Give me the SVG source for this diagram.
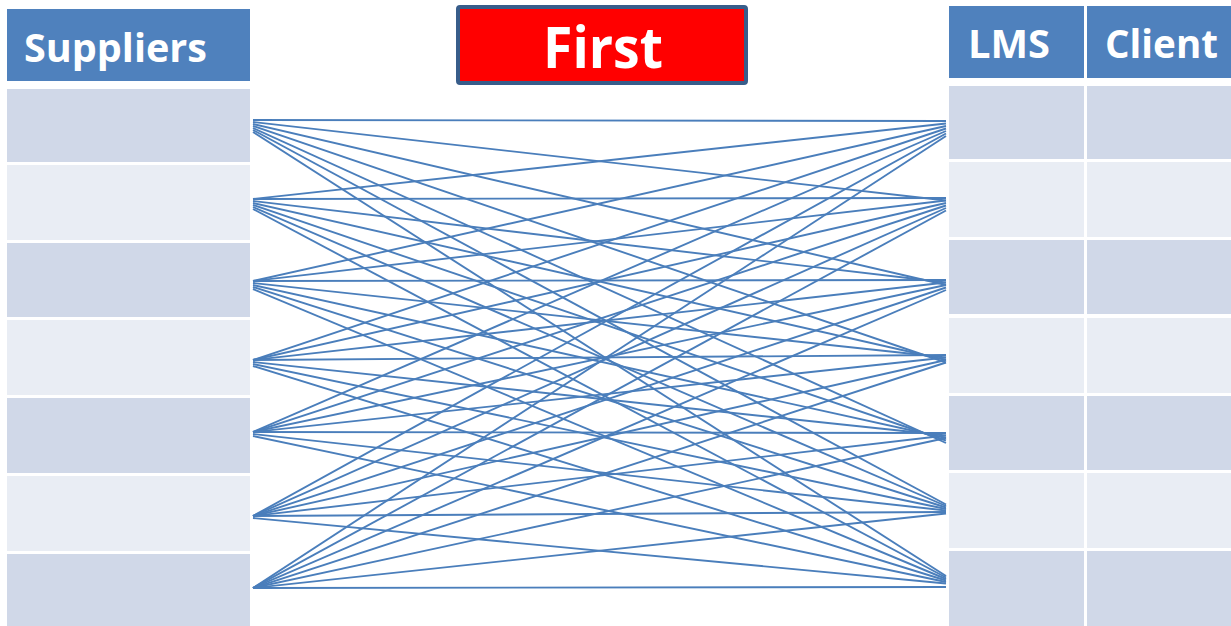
<svg xmlns="http://www.w3.org/2000/svg" width="1231" height="626" viewBox="0 0 1231 626">
<style>
.hdr{fill:#4F81BD}
.dk{fill:#D0D8E8}
.lt{fill:#E9EDF4}
.ht{font-family:"Open Sans","Noto Sans",sans-serif;font-weight:bold;fill:#FFFFFF;font-size:40px}
.ln{stroke:#4A7EBB;stroke-width:1.9;fill:none}
</style>
<rect x="0" y="0" width="1231" height="626" fill="#FFFFFF"/>
<g id="suppliers">
<rect class="hdr" x="7" y="9" width="243" height="72"/>
<text class="ht" x="24" y="62" textLength="183" lengthAdjust="spacingAndGlyphs">Suppliers</text>
<rect class="dk" x="7" y="89" width="243" height="73"/>
<rect class="lt" x="7" y="165" width="243" height="75"/>
<rect class="dk" x="7" y="243" width="243" height="74"/>
<rect class="lt" x="7" y="320" width="243" height="75"/>
<rect class="dk" x="7" y="398" width="243" height="75"/>
<rect class="lt" x="7" y="476" width="243" height="75"/>
<rect class="dk" x="7" y="554" width="243" height="72"/>
</g>
<g id="first">
<rect x="458" y="7" width="288" height="76" rx="2" fill="#FF0000" stroke="#385D8A" stroke-width="4"/>
<text x="603" y="68" text-anchor="middle" font-family="Open Sans, Noto Sans, sans-serif" font-weight="bold" font-size="58" fill="#FFFFFF" textLength="120" lengthAdjust="spacingAndGlyphs">First</text>
</g>
<g id="lms">
<rect class="hdr" x="949" y="6" width="135" height="72"/>
<text class="ht" x="968" y="58" textLength="82" lengthAdjust="spacingAndGlyphs">LMS</text>
<rect class="dk" x="949" y="86" width="135" height="73"/>
<rect class="lt" x="949" y="162" width="135" height="75"/>
<rect class="dk" x="949" y="240" width="135" height="74"/>
<rect class="lt" x="949" y="318" width="135" height="75"/>
<rect class="dk" x="949" y="396" width="135" height="74"/>
<rect class="lt" x="949" y="473" width="135" height="75"/>
<rect class="dk" x="949" y="551" width="135" height="75"/>
</g>
<g id="client">
<rect class="hdr" x="1087" y="6" width="144" height="72"/>
<text class="ht" x="1105" y="58" textLength="113" lengthAdjust="spacingAndGlyphs">Client</text>
<rect class="dk" x="1087" y="86" width="144" height="73"/>
<rect class="lt" x="1087" y="162" width="144" height="75"/>
<rect class="dk" x="1087" y="240" width="144" height="74"/>
<rect class="lt" x="1087" y="318" width="144" height="75"/>
<rect class="dk" x="1087" y="396" width="144" height="74"/>
<rect class="lt" x="1087" y="473" width="144" height="75"/>
<rect class="dk" x="1087" y="551" width="144" height="75"/>
</g>
<g id="connectors" class="ln">
<line class="ln" x1="253" y1="120" x2="946" y2="121"/>
<line class="ln" x1="253" y1="122" x2="946" y2="200.5"/>
<line class="ln" x1="253" y1="124" x2="946" y2="285"/>
<line class="ln" x1="253" y1="126" x2="946" y2="362.5"/>
<line class="ln" x1="253" y1="128" x2="946" y2="443"/>
<line class="ln" x1="253" y1="130" x2="946" y2="504.5"/>
<line class="ln" x1="253" y1="132" x2="946" y2="576"/>
<line class="ln" x1="253" y1="199" x2="946" y2="123.5"/>
<line class="ln" x1="253" y1="199" x2="946" y2="198"/>
<line class="ln" x1="253" y1="201" x2="946" y2="282.5"/>
<line class="ln" x1="253" y1="203" x2="946" y2="360"/>
<line class="ln" x1="253" y1="205" x2="946" y2="440.5"/>
<line class="ln" x1="253" y1="207" x2="946" y2="506"/>
<line class="ln" x1="253" y1="209" x2="946" y2="577.5"/>
<line class="ln" x1="253" y1="281" x2="946" y2="126"/>
<line class="ln" x1="253" y1="281" x2="946" y2="200.5"/>
<line class="ln" x1="253" y1="281" x2="946" y2="280"/>
<line class="ln" x1="253" y1="283" x2="946" y2="357.5"/>
<line class="ln" x1="253" y1="285" x2="946" y2="438"/>
<line class="ln" x1="253" y1="287" x2="946" y2="507.5"/>
<line class="ln" x1="253" y1="289" x2="946" y2="579"/>
<line class="ln" x1="253" y1="360" x2="946" y2="128.5"/>
<line class="ln" x1="253" y1="360" x2="946" y2="203"/>
<line class="ln" x1="253" y1="360" x2="946" y2="282.5"/>
<line class="ln" x1="253" y1="360" x2="946" y2="355"/>
<line class="ln" x1="253" y1="362" x2="946" y2="435.5"/>
<line class="ln" x1="253" y1="364" x2="946" y2="509"/>
<line class="ln" x1="253" y1="366" x2="946" y2="580.5"/>
<line class="ln" x1="253" y1="432" x2="946" y2="131"/>
<line class="ln" x1="253" y1="432" x2="946" y2="205.5"/>
<line class="ln" x1="253" y1="432" x2="946" y2="285"/>
<line class="ln" x1="253" y1="432" x2="946" y2="357.5"/>
<line class="ln" x1="253" y1="432" x2="946" y2="433"/>
<line class="ln" x1="253" y1="434" x2="946" y2="510.5"/>
<line class="ln" x1="253" y1="436" x2="946" y2="582"/>
<line class="ln" x1="253" y1="516" x2="946" y2="133.5"/>
<line class="ln" x1="253" y1="516" x2="946" y2="208"/>
<line class="ln" x1="253" y1="516" x2="946" y2="287.5"/>
<line class="ln" x1="253" y1="516" x2="946" y2="360"/>
<line class="ln" x1="253" y1="516" x2="946" y2="435.5"/>
<line class="ln" x1="253" y1="516" x2="946" y2="512"/>
<line class="ln" x1="253" y1="518" x2="946" y2="583.5"/>
<line class="ln" x1="253" y1="588" x2="946" y2="136"/>
<line class="ln" x1="253" y1="588" x2="946" y2="210.5"/>
<line class="ln" x1="253" y1="588" x2="946" y2="290"/>
<line class="ln" x1="253" y1="588" x2="946" y2="362.5"/>
<line class="ln" x1="253" y1="588" x2="946" y2="438"/>
<line class="ln" x1="253" y1="588" x2="946" y2="513.5"/>
<line class="ln" x1="253" y1="588" x2="946" y2="587"/>
</g>
</svg>
